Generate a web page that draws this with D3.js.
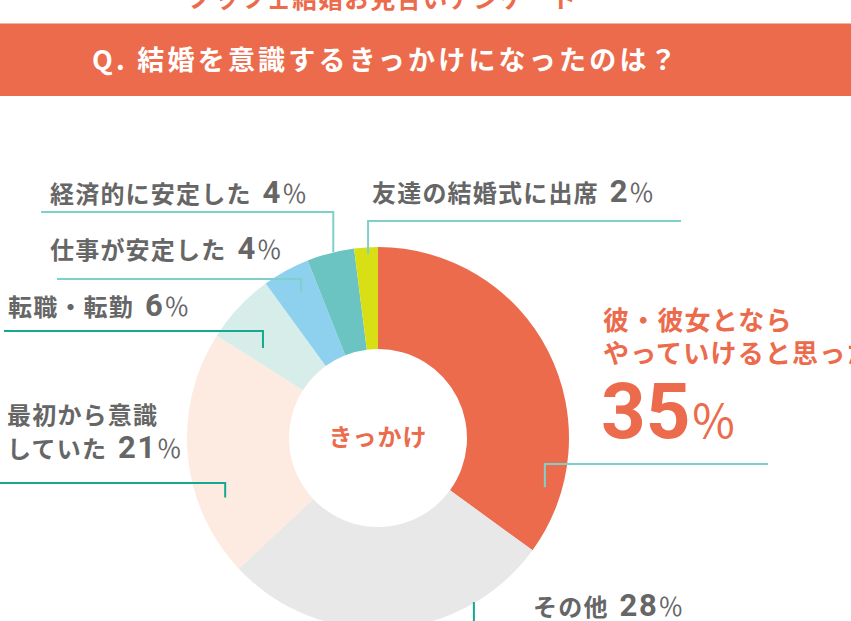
<!DOCTYPE html>
<html>
<head>
<meta charset="utf-8">
<script src="https://cdn.jsdelivr.net/npm/d3@7"></script>
<style>
  body { margin: 0; background: #fff; }
  svg { display: block; }
  text { font-family: "Noto Sans CJK JP", sans-serif; }
</style>
</head>
<body>
<div id="chart-container"><svg id="chart"></svg></div>
<script>
const width  = 851;
const height = 621;

// data
const categories = ["彼・彼女となら やっていけると思った", "その他", "最初から意識していた", "転職・転勤", "仕事が安定した", "経済的に安定した", "友達の結婚式に出席"];
const values     = [35, 28, 21, 6, 4, 4, 2];
const colors     = ["#ec6b4c", "#e8e8e8", "#fdeae0", "#d7ede9", "#8dd1ee", "#6cc4c2", "#d8df15"];
const labelLines = [["彼・彼女となら", "やっていけると思った"], ["その他"], ["最初から意識", "していた"], ["転職・転勤"], ["仕事が安定した"], ["経済的に安定した"], ["友達の結婚式に出席"]];

const red  = "#ec6b4c";
const gray = "#666";
const lineLight = "#80d0ca";
const lineDark  = "#14a890";

const cx = 378, cy = 438;
const outerR = 191, innerR = 89;

// label layout (text position, leader line)
const layout = [
  { x: 603, y: 330, lh: 33, size: 26, color: red, big: true, frac: 0.845, r: 174, lineY: 464, lineEnd: 768, stroke: lineLight },
  { x: 533, y: 616, lh: 0, size: 24, color: gray, frac: 0.235, r: 190, lineY: null, stroke: lineDark },
  { x: 7, y: 424, lh: 34, size: 24, color: gray, frac: 0.29, r: 164, lineY: 483, lineEnd: 0, stroke: lineDark },
  { x: 8, y: 316, lh: 0, size: 24, color: gray, frac: 0.26, r: 146, lineY: 331, lineEnd: 4, stroke: lineDark },
  { x: 50, y: 259, lh: 0, size: 24, color: gray, frac: 0.57, r: 165, lineY: 279, lineEnd: 57, stroke: lineLight },
  { x: 50, y: 203, lh: 0, size: 24, color: gray, frac: 0.56, r: 191, lineY: 212, lineEnd: 41, stroke: lineLight },
  { x: 372, y: 202, lh: 0, size: 24, color: gray, frac: 0.57, r: 184, lineY: 221, lineEnd: 681, stroke: lineLight }
];

const svg = d3.select("#chart").attr("width", width).attr("height", height);

// top caption (cut off by the top edge)
svg.append("text")
  .attr("x", 383).attr("y", 8)
  .attr("text-anchor", "middle")
  .attr("fill", red)
  .attr("font-size", 25).attr("font-weight", 700)
  .attr("letter-spacing", 1)
  .text("ノッツェ結婚お見合いアンケート");

// header band
svg.append("rect").attr("x", 0).attr("y", 23).attr("width", width).attr("height", 1).attr("fill", "#f3b3a3");
svg.append("rect").attr("x", 0).attr("y", 24).attr("width", width).attr("height", 72).attr("fill", red);
svg.append("text")
  .attr("x", 92).attr("y", 70)
  .attr("fill", "#fff")
  .attr("font-size", 27).attr("font-weight", 700)
  .attr("letter-spacing", 3.2)
  .text("Q. 結婚を意識するきっかけになったのは？");

// donut
const pie = d3.pie().sort(null).value(d => d);
const arcs = pie(values);
const arc = d3.arc().innerRadius(innerR).outerRadius(outerR);

const g = svg.append("g").attr("transform", `translate(${cx},${cy})`);
g.selectAll("path").data(arcs)
  .enter().append("path")
    .attr("d", arc)
    .attr("fill", (d, i) => colors[i]);

g.append("text")
  .attr("y", 8)
  .attr("text-anchor", "middle")
  .attr("fill", red)
  .attr("font-size", 24).attr("font-weight", 700)
  .attr("letter-spacing", 1)
  .text("きっかけ");

// leader lines
const polar = (a, r) => [cx + r * Math.sin(a), cy - r * Math.cos(a)];

arcs.forEach((d, i) => {
  const L = layout[i];
  const a = d.startAngle + L.frac * (d.endAngle - d.startAngle);
  const [px, py] = polar(a, L.r);
  const pts = L.lineY === null
    ? [[px, py], [px, height + 10]]
    : [[L.lineEnd, L.lineY], [px, L.lineY], [px, py]];
  svg.append("path")
    .attr("d", d3.line()(pts))
    .attr("fill", "none")
    .attr("stroke", L.stroke)
    .attr("stroke-width", 2);
});

// labels
arcs.forEach((d, i) => {
  const L = layout[i];
  const lines = labelLines[i];
  const t = svg.append("text")
    .attr("fill", L.color)
    .attr("font-weight", 700)
    .attr("font-size", L.size)
    .attr("letter-spacing", 1.2);

  lines.forEach((s, j) => {
    t.append("tspan").attr("x", L.x).attr("y", L.y + j * L.lh).text(s);
  });

  if (L.big) {
    const p = svg.append("text")
      .attr("x", L.x - 2).attr("y", 438)
      .attr("fill", L.color);
    p.append("tspan")
      .attr("font-family", "Roboto, sans-serif")
      .attr("font-weight", 700).attr("font-size", 78)
      .text(values[i]);
    p.append("tspan")
      .attr("font-weight", 400).attr("font-size", 46)
      .text("％");
  } else {
    t.append("tspan")
      .attr("font-family", "Roboto, sans-serif")
      .attr("font-size", 31)
      .attr("dx", 11)
      .attr("letter-spacing", 1.5)
      .text(values[i]);
    t.append("tspan")
      .attr("font-weight", 400).attr("font-size", 25)
      .attr("letter-spacing", 0)
      .text("％");
  }
});
</script>
</body>
</html>
